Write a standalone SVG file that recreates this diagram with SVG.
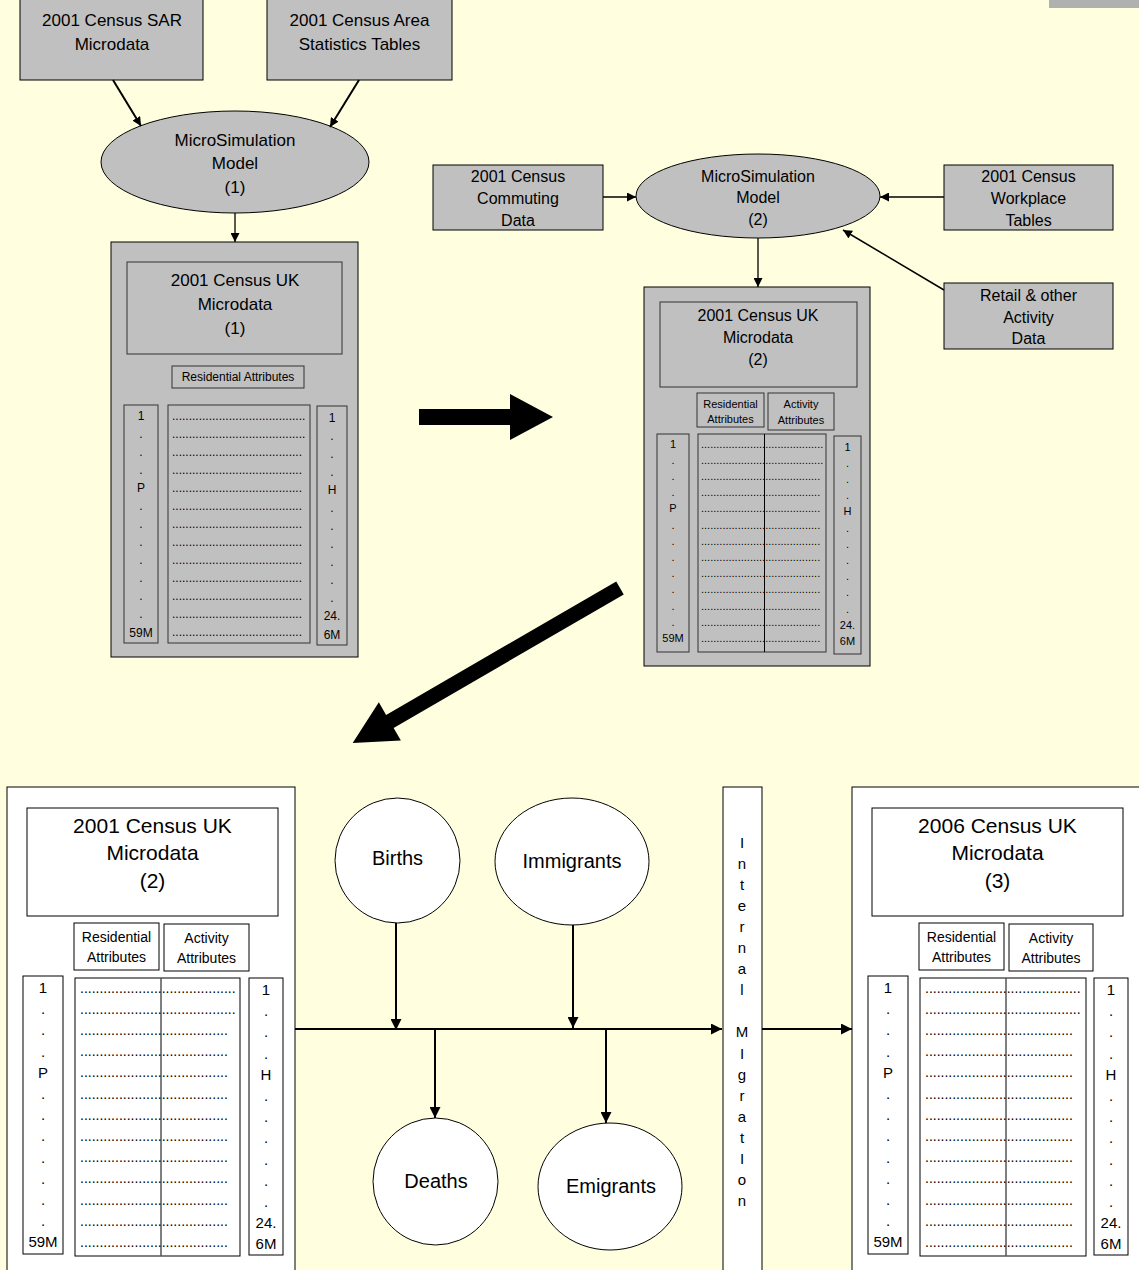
<svg xmlns="http://www.w3.org/2000/svg" width="1139" height="1270" viewBox="0 0 1139 1270">
<defs>
<marker id="ah" viewBox="0 0 10 10" refX="10" refY="5" markerWidth="9" markerHeight="9" markerUnits="userSpaceOnUse" orient="auto"><path d="M0,0 L10,5 L0,10 z" fill="#000"/></marker>
<marker id="ahb" viewBox="0 0 10 10" refX="10" refY="5" markerWidth="11" markerHeight="11" markerUnits="userSpaceOnUse" orient="auto"><path d="M0,0 L10,5 L0,10 z" fill="#000"/></marker>
</defs>
<style>
text{font-family:"Liberation Sans",Arial,sans-serif;fill:#000;text-anchor:middle}
.g{fill:#c0c0c0;stroke:#000;stroke-width:1}
.gi{fill:#c0c0c0;stroke:#333;stroke-width:1}
.w{fill:#fff;stroke:#000;stroke-width:1}
.f17{font-size:17px}.f16{font-size:16px}.f12{font-size:12px}.f11{font-size:11px}.f14{font-size:14px}.f15{font-size:15px}.f20{font-size:20px}.f21{font-size:21px}
.dots{text-anchor:start}
.c{stroke:#000;fill:none}
</style>
<rect x="0" y="0" width="1139" height="1270" fill="#ffffe0"/>
<rect x="1049" y="0" width="90" height="8" fill="#b0b0b0"/>

<g id="sar">
<rect class="g" x="20" y="-1" width="183" height="81"/>
<text class="f17" x="112" y="26">2001 Census SAR</text>
<text class="f17" x="112" y="50">Microdata</text>
</g>
<g id="area">
<rect class="g" x="267" y="-1" width="185" height="81"/>
<text class="f17" x="359.5" y="26">2001 Census Area</text>
<text class="f17" x="359.5" y="50">Statistics Tables</text>
</g>
<g id="msm1">
<ellipse class="g" cx="235" cy="162" rx="134" ry="51"/>
<text class="f17" x="235" y="146">MicroSimulation</text>
<text class="f17" x="235" y="169">Model</text>
<text class="f17" x="235" y="193">(1)</text>
</g>

<g id="panel1">
<rect class="g" x="111" y="242" width="247" height="415"/>
<rect class="gi" x="127" y="262" width="215" height="92"/>
<text class="f17" x="235" y="286">2001 Census UK</text>
<text class="f17" x="235" y="310">Microdata</text>
<text class="f17" x="235" y="334">(1)</text>
<rect class="gi" x="172" y="366" width="132" height="22"/>
<text class="f12" x="238" y="381">Residential Attributes</text>
<rect class="gi" x="124" y="405" width="34" height="238"/>
<rect class="gi" x="168" y="405" width="142" height="238"/>
<rect class="gi" x="317" y="406" width="30" height="239"/>
<text class="f12"><tspan x="141" y="420">1</tspan><tspan x="141" y="438">.</tspan><tspan x="141" y="456">.</tspan><tspan x="141" y="474">.</tspan><tspan x="141" y="492">P</tspan><tspan x="141" y="510">.</tspan><tspan x="141" y="528">.</tspan><tspan x="141" y="546">.</tspan><tspan x="141" y="564">.</tspan><tspan x="141" y="582">.</tspan><tspan x="141" y="600">.</tspan><tspan x="141" y="618">.</tspan><tspan x="141" y="637">59M</tspan></text>
<text class="f12"><tspan x="332" y="422">1</tspan><tspan x="332" y="440">.</tspan><tspan x="332" y="458">.</tspan><tspan x="332" y="476">.</tspan><tspan x="332" y="494">H</tspan><tspan x="332" y="512">.</tspan><tspan x="332" y="530">.</tspan><tspan x="332" y="548">.</tspan><tspan x="332" y="566">.</tspan><tspan x="332" y="584">.</tspan><tspan x="332" y="602">.</tspan><tspan x="332" y="620">24.</tspan><tspan x="332" y="639">6M</tspan></text>
<text class="f12 dots"><tspan x="172" y="419.5">........................................</tspan><tspan x="172" y="437.6">........................................</tspan><tspan x="172" y="455.6">.......................................</tspan><tspan x="172" y="473.7">.......................................</tspan><tspan x="172" y="491.8">.......................................</tspan><tspan x="172" y="509.9">.......................................</tspan><tspan x="172" y="527.9">.......................................</tspan><tspan x="172" y="546">.......................................</tspan><tspan x="172" y="564">.......................................</tspan><tspan x="172" y="582.1">.......................................</tspan><tspan x="172" y="600.2">.......................................</tspan><tspan x="172" y="618.3">.......................................</tspan><tspan x="172" y="636.3">.......................................</tspan></text>
</g>

<g id="commuting">
<rect class="g" x="433" y="165" width="170" height="65"/>
<text class="f16" x="518" y="182">2001 Census</text>
<text class="f16" x="518" y="204">Commuting</text>
<text class="f16" x="518" y="226">Data</text>
</g>
<g id="msm2">
<ellipse class="g" cx="758" cy="196" rx="122" ry="42"/>
<text class="f16" x="758" y="182">MicroSimulation</text>
<text class="f16" x="758" y="203">Model</text>
<text class="f16" x="758" y="225">(2)</text>
</g>
<g id="workplace">
<rect class="g" x="944" y="165" width="169" height="65"/>
<text class="f16" x="1028.5" y="182">2001 Census</text>
<text class="f16" x="1028.5" y="204">Workplace</text>
<text class="f16" x="1028.5" y="226">Tables</text>
</g>
<g id="retail">
<rect class="g" x="944" y="283" width="169" height="66"/>
<text class="f16" x="1028.5" y="301">Retail &amp; other</text>
<text class="f16" x="1028.5" y="323">Activity</text>
<text class="f16" x="1028.5" y="344">Data</text>
</g>

<g id="panel2">
<rect class="g" x="644" y="287" width="226" height="379"/>
<rect class="gi" x="660" y="302" width="197" height="85"/>
<text class="f16" x="758" y="321">2001 Census UK</text>
<text class="f16" x="758" y="343">Microdata</text>
<text class="f16" x="758" y="365">(2)</text>
<rect class="gi" x="697" y="393" width="67" height="34"/>
<text class="f11" x="730.5" y="408">Residential</text>
<text class="f11" x="730.5" y="423">Attributes</text>
<rect class="gi" x="768" y="393" width="66" height="37"/>
<text class="f11" x="801" y="408">Activity</text>
<text class="f11" x="801" y="424">Attributes</text>
<rect class="gi" x="657" y="434" width="32" height="218"/>
<rect class="gi" x="698" y="434" width="128" height="218"/>
<rect class="gi" x="834" y="436" width="27" height="218"/>
<line x1="764.5" y1="434" x2="764.5" y2="652" stroke="#000"/>
<text class="f11"><tspan x="673" y="447.5">1</tspan><tspan x="673" y="463.7">.</tspan><tspan x="673" y="479.9">.</tspan><tspan x="673" y="496.1">.</tspan><tspan x="673" y="512.3">P</tspan><tspan x="673" y="528.5">.</tspan><tspan x="673" y="544.7">.</tspan><tspan x="673" y="560.9">.</tspan><tspan x="673" y="577.1">.</tspan><tspan x="673" y="593.3">.</tspan><tspan x="673" y="609.5">.</tspan><tspan x="673" y="625.7">.</tspan><tspan x="673" y="641.9">59M</tspan></text>
<text class="f11"><tspan x="847.5" y="450.5">1</tspan><tspan x="847.5" y="466.7">.</tspan><tspan x="847.5" y="482.9">.</tspan><tspan x="847.5" y="499.1">.</tspan><tspan x="847.5" y="515.3">H</tspan><tspan x="847.5" y="531.5">.</tspan><tspan x="847.5" y="547.7">.</tspan><tspan x="847.5" y="563.9">.</tspan><tspan x="847.5" y="580.1">.</tspan><tspan x="847.5" y="596.3">.</tspan><tspan x="847.5" y="612.5">.</tspan><tspan x="847.5" y="628.7">24.</tspan><tspan x="847.5" y="644.9">6M</tspan></text>
<text class="f11 dots"><tspan x="701" y="447.5">........................................</tspan><tspan x="701" y="463.7">........................................</tspan><tspan x="701" y="479.9">.......................................</tspan><tspan x="701" y="496.1">.......................................</tspan><tspan x="701" y="512.3">.......................................</tspan><tspan x="701" y="528.5">.......................................</tspan><tspan x="701" y="544.7">.......................................</tspan><tspan x="701" y="560.9">.......................................</tspan><tspan x="701" y="577.1">.......................................</tspan><tspan x="701" y="593.3">.......................................</tspan><tspan x="701" y="609.5">.......................................</tspan><tspan x="701" y="625.7">.......................................</tspan><tspan x="701" y="641.9">.......................................</tspan></text>
</g>

<g id="panel3">
<rect class="w" x="7" y="787" width="288" height="500"/>
<rect class="w" x="27" y="808" width="251" height="108"/>
<text class="f21" x="152.5" y="832.5">2001 Census UK</text>
<text class="f21" x="152.5" y="859.5">Microdata</text>
<text class="f21" x="152.5" y="887.5">(2)</text>
<rect class="w" x="74" y="923" width="85" height="47"/>
<text class="f14" x="116.5" y="942">Residential</text>
<text class="f14" x="116.5" y="962">Attributes</text>
<rect class="w" x="164" y="924" width="85" height="47"/>
<text class="f14" x="206.5" y="943">Activity</text>
<text class="f14" x="206.5" y="963">Attributes</text>
<rect class="w" x="23" y="976" width="40" height="278"/>
<rect class="w" x="75" y="978" width="165" height="278"/>
<rect class="w" x="249" y="978" width="34" height="277"/>
<line x1="161" y1="978" x2="161" y2="1256" stroke="#555" stroke-width="1.5"/>
<text class="f15"><tspan x="43" y="993">1</tspan><tspan x="43" y="1014.2">.</tspan><tspan x="43" y="1035.4">.</tspan><tspan x="43" y="1056.6">.</tspan><tspan x="43" y="1077.8">P</tspan><tspan x="43" y="1099">.</tspan><tspan x="43" y="1120.2">.</tspan><tspan x="43" y="1141.4">.</tspan><tspan x="43" y="1162.6">.</tspan><tspan x="43" y="1183.8">.</tspan><tspan x="43" y="1205">.</tspan><tspan x="43" y="1226.2">.</tspan><tspan x="43" y="1247.4">59M</tspan></text>
<text class="f15"><tspan x="266" y="995">1</tspan><tspan x="266" y="1016.2">.</tspan><tspan x="266" y="1037.4">.</tspan><tspan x="266" y="1058.6">.</tspan><tspan x="266" y="1079.8">H</tspan><tspan x="266" y="1101">.</tspan><tspan x="266" y="1122.2">.</tspan><tspan x="266" y="1143.4">.</tspan><tspan x="266" y="1164.6">.</tspan><tspan x="266" y="1185.8">.</tspan><tspan x="266" y="1207">.</tspan><tspan x="266" y="1228.2">24.</tspan><tspan x="266" y="1249.4">6M</tspan></text>
<text class="f14 dots"><tspan x="80" y="992.5">........................................</tspan><tspan x="80" y="1013.7">........................................</tspan><tspan x="80" y="1034.9">......................................</tspan><tspan x="80" y="1056.1">......................................</tspan><tspan x="80" y="1077.3">......................................</tspan><tspan x="80" y="1098.5">......................................</tspan><tspan x="80" y="1119.7">......................................</tspan><tspan x="80" y="1140.9">......................................</tspan><tspan x="80" y="1162.1">......................................</tspan><tspan x="80" y="1183.3">......................................</tspan><tspan x="80" y="1204.5">......................................</tspan><tspan x="80" y="1225.7">......................................</tspan><tspan x="80" y="1246.9">......................................</tspan></text>
</g>

<g id="births">
<ellipse class="w" cx="397.5" cy="860.5" rx="62.5" ry="62.5"/>
<text class="f20" x="397.5" y="865">Births</text>
</g>
<g id="immigrants">
<ellipse class="w" cx="572" cy="861.5" rx="77" ry="63.5"/>
<text class="f20" x="572" y="868">Immigrants</text>
</g>
<g id="deaths">
<ellipse class="w" cx="435.5" cy="1181.5" rx="62.5" ry="63.5"/>
<text class="f20" x="436" y="1188">Deaths</text>
</g>
<g id="emigrants">
<ellipse class="w" cx="610" cy="1186.5" rx="72" ry="63.5"/>
<text class="f20" x="611" y="1193">Emigrants</text>
</g>
<g id="migration">
<rect class="w" x="723" y="787" width="39" height="500"/>
<text class="f15"><tspan x="742" y="847.5">I</tspan><tspan x="742" y="868.6">n</tspan><tspan x="742" y="889.7">t</tspan><tspan x="742" y="910.8">e</tspan><tspan x="742" y="931.9">r</tspan><tspan x="742" y="953">n</tspan><tspan x="742" y="974.1">a</tspan><tspan x="742" y="995.2">l</tspan><tspan x="742" y="1016.3"> </tspan><tspan x="742" y="1037.4">M</tspan><tspan x="742" y="1058.5">I</tspan><tspan x="742" y="1079.6">g</tspan><tspan x="742" y="1100.7">r</tspan><tspan x="742" y="1121.8">a</tspan><tspan x="742" y="1142.9">t</tspan><tspan x="742" y="1164">I</tspan><tspan x="742" y="1185.1">o</tspan><tspan x="742" y="1206.2">n</tspan></text>
</g>

<g id="panel4">
<rect class="w" x="852" y="787" width="300" height="500"/>
<rect class="w" x="872" y="808" width="251" height="108"/>
<text class="f21" x="997.5" y="832.5">2006 Census UK</text>
<text class="f21" x="997.5" y="859.5">Microdata</text>
<text class="f21" x="997.5" y="887.5">(3)</text>
<rect class="w" x="919" y="923" width="85" height="47"/>
<text class="f14" x="961.5" y="942">Residential</text>
<text class="f14" x="961.5" y="962">Attributes</text>
<rect class="w" x="1009" y="924" width="84" height="47"/>
<text class="f14" x="1051" y="943">Activity</text>
<text class="f14" x="1051" y="963">Attributes</text>
<rect class="w" x="868" y="976" width="40" height="278"/>
<rect class="w" x="920" y="978" width="166" height="278"/>
<rect class="w" x="1094" y="978" width="34" height="277"/>
<line x1="1006" y1="978" x2="1006" y2="1256" stroke="#555" stroke-width="1.5"/>
<text class="f15"><tspan x="888" y="993">1</tspan><tspan x="888" y="1014.2">.</tspan><tspan x="888" y="1035.4">.</tspan><tspan x="888" y="1056.6">.</tspan><tspan x="888" y="1077.8">P</tspan><tspan x="888" y="1099">.</tspan><tspan x="888" y="1120.2">.</tspan><tspan x="888" y="1141.4">.</tspan><tspan x="888" y="1162.6">.</tspan><tspan x="888" y="1183.8">.</tspan><tspan x="888" y="1205">.</tspan><tspan x="888" y="1226.2">.</tspan><tspan x="888" y="1247.4">59M</tspan></text>
<text class="f15"><tspan x="1111" y="995">1</tspan><tspan x="1111" y="1016.2">.</tspan><tspan x="1111" y="1037.4">.</tspan><tspan x="1111" y="1058.6">.</tspan><tspan x="1111" y="1079.8">H</tspan><tspan x="1111" y="1101">.</tspan><tspan x="1111" y="1122.2">.</tspan><tspan x="1111" y="1143.4">.</tspan><tspan x="1111" y="1164.6">.</tspan><tspan x="1111" y="1185.8">.</tspan><tspan x="1111" y="1207">.</tspan><tspan x="1111" y="1228.2">24.</tspan><tspan x="1111" y="1249.4">6M</tspan></text>
<text class="f14 dots"><tspan x="925" y="992.5">........................................</tspan><tspan x="925" y="1013.7">........................................</tspan><tspan x="925" y="1034.9">......................................</tspan><tspan x="925" y="1056.1">......................................</tspan><tspan x="925" y="1077.3">......................................</tspan><tspan x="925" y="1098.5">......................................</tspan><tspan x="925" y="1119.7">......................................</tspan><tspan x="925" y="1140.9">......................................</tspan><tspan x="925" y="1162.1">......................................</tspan><tspan x="925" y="1183.3">......................................</tspan><tspan x="925" y="1204.5">......................................</tspan><tspan x="925" y="1225.7">......................................</tspan><tspan x="925" y="1246.9">......................................</tspan></text>
</g>

<g id="connectors">
<line class="c" x1="113" y1="80" x2="141" y2="126" stroke-width="2" marker-end="url(#ah)"/>
<line class="c" x1="359" y1="80" x2="330" y2="127" stroke-width="2" marker-end="url(#ah)"/>
<line class="c" x1="235" y1="213" x2="235" y2="242" stroke-width="1.3" marker-end="url(#ah)"/>
<line class="c" x1="603" y1="197" x2="636" y2="197" stroke-width="1.3" marker-end="url(#ah)"/>
<line class="c" x1="944" y1="197" x2="880" y2="197" stroke-width="1.3" marker-end="url(#ah)"/>
<line class="c" x1="944" y1="290" x2="843" y2="230" stroke-width="1.5" marker-end="url(#ah)"/>
<line class="c" x1="758" y1="238" x2="758" y2="287" stroke-width="1.3" marker-end="url(#ah)"/>
<path d="M0,-8 L91,-8 L91,-23 L134,0 L91,23 L91,8 L0,8 Z" transform="translate(419,417)" fill="#000"/>
<path d="M0,-7.5 L266,-7.5 L266,-22 L309,0 L266,22 L266,7.5 L0,7.5 Z" transform="translate(620,588) rotate(149.9)" fill="#000"/>
<line class="c" x1="295" y1="1029" x2="722" y2="1029" stroke-width="2" marker-end="url(#ahb)"/>
<line class="c" x1="396" y1="923" x2="396" y2="1030" stroke-width="2" marker-end="url(#ahb)"/>
<line class="c" x1="573" y1="925" x2="573" y2="1028" stroke-width="2" marker-end="url(#ahb)"/>
<line class="c" x1="435" y1="1029" x2="435" y2="1118" stroke-width="2" marker-end="url(#ahb)"/>
<line class="c" x1="606" y1="1029" x2="606" y2="1123" stroke-width="2" marker-end="url(#ahb)"/>
<line class="c" x1="762" y1="1029" x2="852" y2="1029" stroke-width="2" marker-end="url(#ahb)"/>
</g>
</svg>
